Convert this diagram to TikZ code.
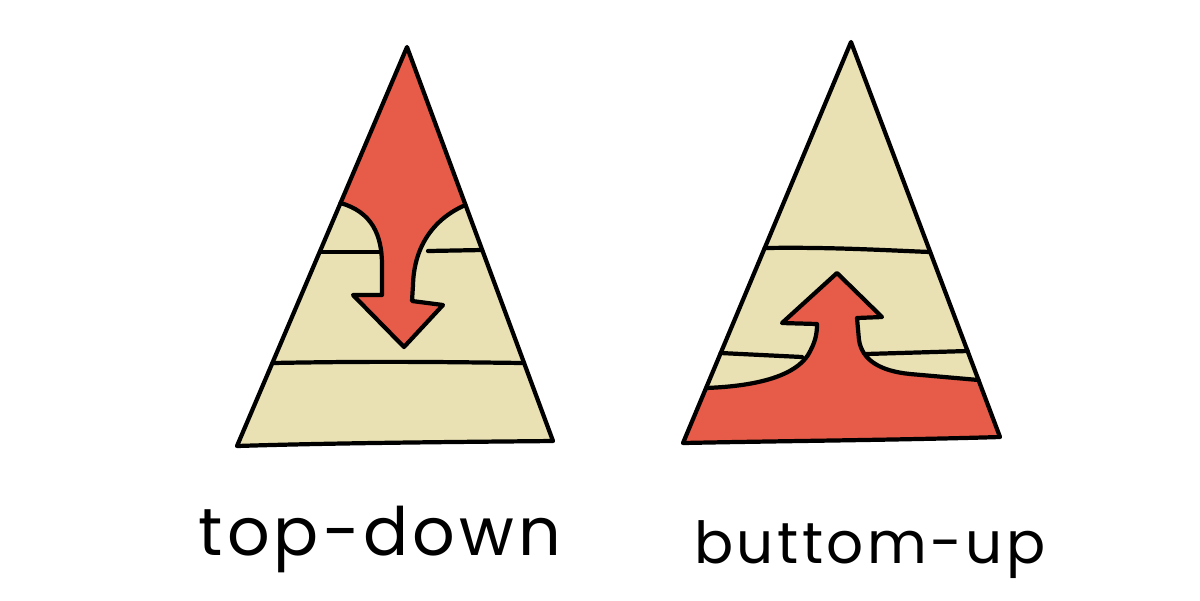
\documentclass[tikz,border=0pt]{standalone}
\usepackage{fontspec}
\newfontfamily\hand[LetterSpace=6]{Poppins}
\definecolor{redfill}{RGB}{230,92,72}
\definecolor{beige}{RGB}{233,224,179}
\begin{document}
\begin{tikzpicture}[x=0.02cm,y=-0.02cm,
  ink/.style={draw=black,line width=2.4pt,line join=round,line cap=round},
  label/.style={font=\hand\fontsize{38}{40}\selectfont,text=black,inner sep=0pt,anchor=base}]
\useasboundingbox (0,0) rectangle (1200,600);
% ---------- left: top-down ----------
\coordinate (LA) at (407,47);
\coordinate (LL) at (237,446);
\coordinate (LR) at (553,441);
\fill[beige] (LA) -- (LR) -- (LL) -- cycle;
\fill[redfill] (LA) -- (340.5,203)
  .. controls (372,212) and (382,235) .. (382,265) -- (382,295)
  -- (353,295) -- (404,347) -- (443,305) -- (412,301) -- (413,285)
  .. controls (414,245) and (435,218) .. (465.5,205) -- cycle;
\draw[ink] (340.5,203)
  .. controls (372,212) and (382,235) .. (382,265) -- (382,295)
  -- (353,295) -- (404,347) -- (443,305) -- (412,301) -- (413,285)
  .. controls (414,245) and (435,218) .. (465.5,205);
\draw[ink] (321,252) -- (381,252);
\draw[ink] (428,251) -- (482,250);
\draw[ink] (272.5,363) .. controls (380,361) and (440,362) .. (524,363);
\draw[ink] (LA) -- (LR) .. controls (450,442) and (330,443) .. (LL) -- cycle;
\node[label] (td) at (380,555) {top-down};
% ---------- right: bottom-up ----------
\coordinate (RA) at (851,42);
\coordinate (RL) at (683,443);
\coordinate (RR) at (1000,437);
\fill[beige] (RA) -- (RR) -- (RL) -- cycle;
\fill[redfill] (706,388)
  .. controls (760,386) and (795,375) .. (808,355)
  .. controls (815,343) and (817,335) .. (817,324)
  -- (782,323) -- (837,273) -- (882,317) -- (857,318) -- (859,340)
  .. controls (862,360) and (880,371) .. (910,374)
  -- (978.5,380) -- (RR) -- (RL) -- cycle;
\draw[ink] (706,388)
  .. controls (760,386) and (795,375) .. (808,355)
  .. controls (815,343) and (817,335) .. (817,324)
  -- (782,323) -- (837,273) -- (882,317) -- (857,318) -- (859,340)
  .. controls (862,360) and (880,371) .. (910,374)
  -- (978.5,380);
\draw[ink] (764.7,248) .. controls (830,247) and (880,250) .. (930,252);
\draw[ink] (720.7,353) -- (802,357);
\draw[ink] (866,354) -- (967.6,351);
\draw[ink] (RA) -- (RR) .. controls (900,440) and (780,441) .. (RL) -- cycle;
\node[label,font=\hand\fontsize{33}{36}\selectfont] (bu) at (870,563) {buttom-up};
\end{tikzpicture}
\end{document}
